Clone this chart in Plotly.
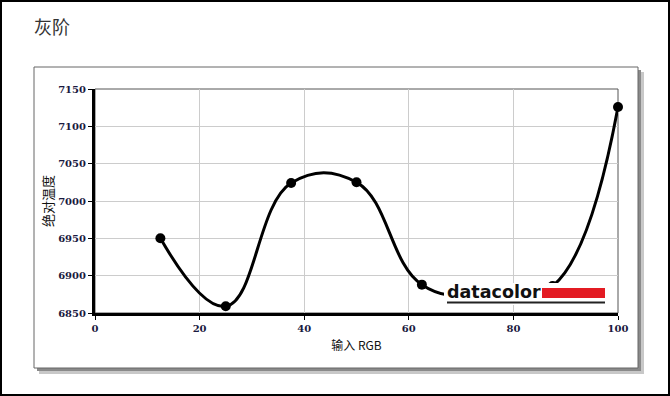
import plotly.graph_objects as go

# ---- data ----
x_rgb = [12.5, 25, 37.5, 50, 62.5, 75, 87.5, 100]
temp_k = [6950, 6859, 7024, 7025, 6888, 6874, 6886, 7126]
x_ticks = [0, 20, 40, 60, 80, 100]
y_ticks = [6850, 6900, 6950, 7000, 7050, 7100, 7150]

W, H = 670, 396
L, R, T, B = 95, 618, 89, 313  # plot area in pixels
pw, ph = R - L, B - T


def px(xp):
    return (xp - L) / pw


def py(yp):
    return (B - yp) / ph


fig = go.Figure()
fig.add_trace(go.Scatter(
    x=x_rgb, y=temp_k, mode="lines+markers",
    line=dict(color="black", width=3, shape="spline", smoothing=1.2),
    marker=dict(color="black", size=10),
    cliponaxis=False, showlegend=False, hoverinfo="skip",
))

tick_font = dict(family="DejaVu Serif", size=10, color="#1a1a40", weight="bold")

shapes = [
    # panel shadow
    dict(type="rect", xref="paper", yref="paper", layer="below",
         x0=px(39), x1=px(644), y0=py(72), y1=py(374),
         fillcolor="#c8c8c8", line=dict(width=0)),
    dict(type="rect", xref="paper", yref="paper", layer="below",
         x0=px(37), x1=px(641), y0=py(70), y1=py(371),
         fillcolor="#8a8a8a", line=dict(width=0)),
    # panel
    dict(type="rect", xref="paper", yref="paper", layer="below",
         x0=px(34), x1=px(638), y0=py(67), y1=py(368),
         fillcolor="white", line=dict(color="#666666", width=1)),
    # plot area frame (top/right thin)
    dict(type="rect", xref="paper", yref="paper", layer="below",
         x0=0, x1=1, y0=0, y1=1,
         fillcolor="white", line=dict(color="#555555", width=1)),
    # outer border
    dict(type="rect", xref="paper", yref="paper", layer="above",
         x0=px(1), x1=px(669), y0=py(1), y1=py(395),
         fillcolor="rgba(0,0,0,0)", line=dict(color="black", width=2)),
    # logo white box
    dict(type="rect", xref="paper", yref="paper", layer="above",
         x0=px(444), x1=px(608), y0=py(283), y1=py(305),
         fillcolor="white", line=dict(width=0)),
    # logo red bar
    dict(type="rect", xref="paper", yref="paper", layer="above",
         x0=px(542), x1=px(605), y0=py(288), y1=py(298),
         fillcolor="#e31b23", line=dict(width=0)),
    # logo underline
    dict(type="line", xref="paper", yref="paper", layer="above",
         x0=px(447), x1=px(605), y0=py(302.5), y1=py(302.5),
         line=dict(color="#222222", width=2)),
]

annotations = [
    dict(text="灰阶", xref="paper", yref="paper", x=px(32), y=py(26),
         xanchor="left", yanchor="middle", showarrow=False,
         font=dict(family="Noto Sans CJK SC", size=18, color="#333333")),
    dict(text="<b>datacolor</b>", xref="paper", yref="paper", x=px(445), y=py(292),
         xanchor="left", yanchor="middle", showarrow=False,
         font=dict(family="DejaVu Sans", size=17.5, color="#111111")),
]

fig.update_layout(
    width=W, height=H,
    margin=dict(l=L, r=W - R, t=T, b=H - B),
    paper_bgcolor="white", plot_bgcolor="rgba(0,0,0,0)",
    shapes=shapes, annotations=annotations,
    showlegend=False,
    xaxis=dict(
        range=[0, 100], tickvals=x_ticks, ticktext=[str(v) for v in x_ticks],
        showgrid=True, gridcolor="#cccccc", gridwidth=1,
        showline=True, linecolor="black", linewidth=3,
        ticks="outside", ticklen=4, tickcolor="black", tickwidth=1,
        tickfont=tick_font, zeroline=False,
        title=dict(text="输入 RGB", standoff=9,
                   font=dict(family="Noto Sans CJK SC", size=12, color="#111111")),
    ),
    yaxis=dict(
        range=[6850, 7150], tickvals=y_ticks, ticktext=[str(v) for v in y_ticks],
        showgrid=True, gridcolor="#cccccc", gridwidth=1,
        showline=True, linecolor="black", linewidth=3,
        ticks="outside", ticklen=4, tickcolor="black", tickwidth=1,
        tickfont=tick_font, zeroline=False,
        title=dict(text="绝对温度", standoff=2,
                   font=dict(family="Noto Sans CJK SC", size=13, color="#111111")),
    ),
)

fig.write_html(
    "out.html",
    config={"displayModeBar": False},
    post_script="document.body.style.margin='0';document.body.style.padding='0';",
)
